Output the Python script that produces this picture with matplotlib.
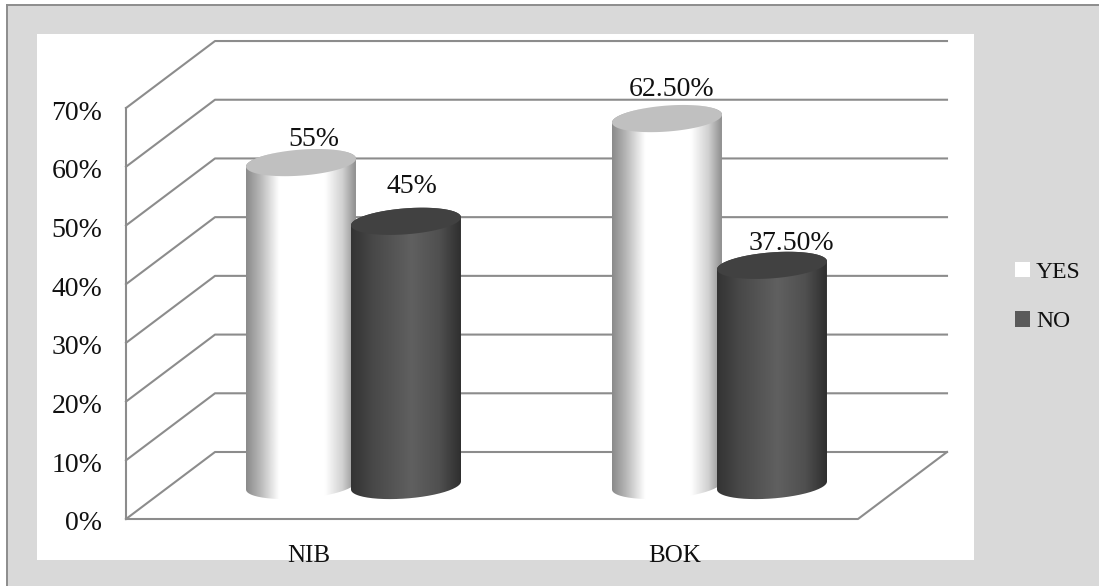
import numpy as np
import matplotlib
matplotlib.use('Agg')
import matplotlib.pyplot as plt
from matplotlib.patches import Rectangle, Patch
from matplotlib.lines import Line2D
from matplotlib.path import Path
from matplotlib.colors import LinearSegmentedColormap
from matplotlib.transforms import ScaledTranslation

plt.rcParams['font.family'] = ['Liberation Serif', 'DejaVu Serif']

bancos = ['NIB', 'BOK']
series = ['YES', 'NO']
yes_vals = [55, 62.5]
no_vals = [45, 37.5]
yes_labels = ['55%', '62.50%']
no_labels = ['45%', '37.50%']
ticks = [0, 10, 20, 30, 40, 50, 60, 70]
tick_labels = ['0%', '10%', '20%', '30%', '40%', '50%', '60%', '70%']

W, H = 1099, 586
cor_linha = '#8c8c8c'
cor_fundo = '#d9d9d9'

fig = plt.figure(figsize=(W / 100, H / 100), dpi=100, facecolor='white')


def fx(px):
    return px / W


def fy(py):
    return 1 - py / H


# Fundo cinza, painel branco e moldura
fig.add_artist(Rectangle((fx(7), 0), 1 - fx(7), fy(5), color=cor_fundo, lw=0, zorder=-3))
fig.add_artist(Rectangle((fx(37), fy(560)), fx(937), fy(34) - fy(560), color='white', lw=0, zorder=-2))
fig.add_artist(Line2D([fx(7), fx(7)], [0, fy(5)], color=cor_linha, lw=1.4, zorder=-1))
fig.add_artist(Line2D([fx(7), 1], [fy(5), fy(5)], color=cor_linha, lw=1.4, zorder=-1))

# Eixos: 366 px por categoria, 5.871 px por ponto percentual
px_x = 1 / 366
px_y = 1 / 5.871
ax = fig.add_axes([fx(126), fy(519), fx(947 - 126), fy(41) - fy(519)])
ax.patch.set_alpha(0)
xmax = (947 - 126) * px_x
ymax = (519 - 41) * px_y
for s in ax.spines.values():
    s.set_visible(False)

# Profundidade da perspectiva
dx = 89 * px_x
dy = 67 * px_y
largura_fundo = 2 + dx

for t in ticks:
    ax.plot([0, dx, largura_fundo], [t, t + dy, t + dy], color=cor_linha, lw=1.5, zorder=1, clip_on=False)
ax.plot([0, 0], [0, 70], color=cor_linha, lw=1.5, zorder=1, clip_on=False)
ax.plot([0, 2, largura_fundo], [0, 0, dy], color=cor_linha, lw=1.5, zorder=1, clip_on=False)

cmap_yes = LinearSegmentedColormap.from_list('yes', [
    (0, '#8a8a8a'), (0.12, '#b4b4b4'), (0.3, '#ffffff'), (0.72, '#ffffff'), (0.88, '#d0d0d0'), (1, '#8e8e8e')])
cmap_no = LinearSegmentedColormap.from_list('no', [
    (0, '#333333'), (0.2, '#484848'), (0.55, '#606060'), (0.8, '#505050'), (1, '#2f2f2f')])

rx = 55 * px_x
ry = 13
incl = 4


def elipse_pts(xc, yc, t):
    return xc + rx * np.cos(t), yc + (ry * np.sin(t) + incl * np.cos(t)) * px_y


def cilindro(xc, valor, cmap, cor_topo, z):
    y0 = dy / 2
    yt = y0 + valor
    # corpo: borda de baixo da base + topo
    t_baixo = np.linspace(np.pi, 2 * np.pi, 80)
    xb, yb = elipse_pts(xc, y0, t_baixo)
    t_cima = np.linspace(0, np.pi, 80)
    xt, yt2 = elipse_pts(xc, yt, t_cima)
    pts = np.column_stack([np.r_[xb, xt], np.r_[yb, yt2]])
    grad = np.linspace(0, 1, 256).reshape(1, -1)
    im = ax.imshow(grad, cmap=cmap, vmin=0, vmax=1, aspect='auto', zorder=z, interpolation='bilinear',
                   extent=[xc - rx, xc + rx, y0 - 20, yt + 20], clip_on=True)
    im.set_clip_path(Path(pts), transform=ax.transData)
    t = np.linspace(0, 2 * np.pi, 160)
    xe, ye = elipse_pts(xc, yt, t)
    ax.fill(xe, ye, color=cor_topo, lw=0, zorder=z + 0.1, clip_on=False)


centros = [0.5 + dx / 2, 1.5 + dx / 2]
offs = 52.5 * px_x
# deslocamento dos rótulos em px, em relação ao centro do topo
off_yes = [(13, 23), (5, 29)]
off_no = [(6, 35), (19, 22)]

for i, c in enumerate(centros):
    cilindro(c - offs, yes_vals[i], cmap_yes, '#c0c0c0', 3)
    cilindro(c + offs, no_vals[i], cmap_no, '#414141', 4)
    ax.annotate(yes_labels[i], (c - offs, yes_vals[i] + dy / 2), xytext=(off_yes[i][0] * 0.72, off_yes[i][1] * 0.72),
                textcoords='offset points', ha='center', va='center', fontsize=20, color='#111111', zorder=6)
    ax.annotate(no_labels[i], (c + offs, no_vals[i] + dy / 2), xytext=(off_no[i][0] * 0.72, off_no[i][1] * 0.72),
                textcoords='offset points', ha='center', va='center', fontsize=20, color='#111111', zorder=6)

ax.set_xlim(0, xmax)
ax.set_ylim(0, ymax)
ax.set_yticks(ticks)
ax.set_yticklabels(tick_labels, fontsize=20, color='#111111')
ax.set_xticks([0.5, 1.5])
ax.set_xticklabels(bancos, fontsize=18, color='#111111')
ax.tick_params(axis='y', length=0, pad=17)
ax.tick_params(axis='x', length=0, pad=19)

# rótulos do eixo y um pouco abaixo da linha
desce = ScaledTranslation(0, -2 / 100, fig.dpi_scale_trans)
for lbl in ax.get_yticklabels():
    lbl.set_transform(lbl.get_transform() + desce)

handles = [Patch(facecolor='white', edgecolor='none'), Patch(facecolor='#5a5a5a', edgecolor='none')]
fig.legend(handles, series, loc='center left', bbox_to_anchor=(fx(994), fy(297)), frameon=False, fontsize=17,
           handlelength=0.63, handleheight=0.63, handletextpad=0.25, labelspacing=1.2, labelcolor='#111111')

fig.savefig('out.png', dpi=100)
